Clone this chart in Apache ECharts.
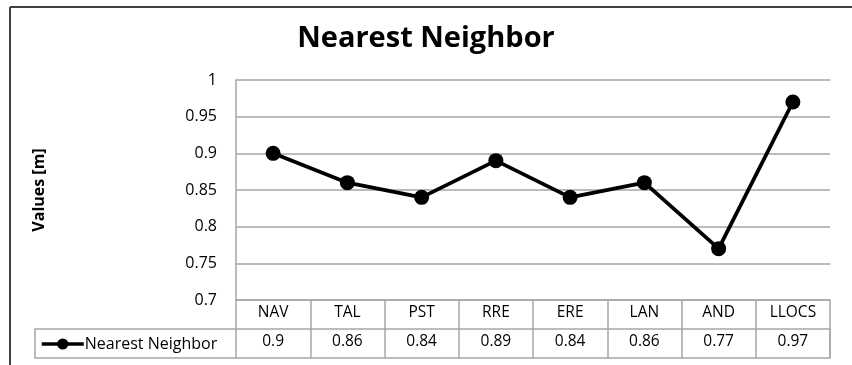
<!DOCTYPE html>
<html>
<head>
<meta charset="utf-8">
<script src="https://cdn.jsdelivr.net/npm/echarts@6/dist/echarts.min.js"></script>
<style>
  html, body { margin: 0; padding: 0; background: #fff; }
  #chart { width: 852px; height: 365px; }
</style>
</head>
<body>
<div id="chart"></div>
<script>
// Nearest-neighbour distance per method
const categories = ['NAV', 'TAL', 'PST', 'RRE', 'ERE', 'LAN', 'AND', 'LLOCS'];
const seriesName = 'Nearest Neighbor';
const values = [0.9, 0.86, 0.84, 0.89, 0.84, 0.86, 0.77, 0.97];
const yTicks = { min: 0.7, max: 1, step: 0.05 };

const FONT = 'Open Sans';
const GRID = { left: 236, right: 22, top: 80, bottom: 65 };
const W = 852, H = 365;
const ROW = 29;             // data-table row height
const gridBottomY = H - GRID.bottom;
const gridRightX = W - GRID.right;
const gray = '#a6a6a6';

const chart = echarts.init(document.getElementById('chart'), null, { renderer: 'canvas' });

chart.setOption({
  backgroundColor: '#fff',
  animation: false,
  title: {
    text: 'Nearest Neighbor',
    left: 'center',
    top: 19,
    textStyle: { fontFamily: FONT, fontWeight: 'bold', fontSize: 29, color: '#000' }
  },
  legend: {
    left: 40,
    top: gridBottomY + ROW + 7,
    padding: 0,
    itemWidth: 42,
    itemHeight: 14,
    itemGap: 2,
    textStyle: { fontFamily: FONT, fontSize: 16, color: '#000', padding: [0, 0, 0, -4] },
    data: [{ name: seriesName, itemStyle: { color: '#000' }, lineStyle: { width: 3.5, color: '#000' } }]
  },
  grid: { left: GRID.left, right: GRID.right, top: GRID.top, bottom: GRID.bottom, containLabel: false },
  xAxis: [
    {
      type: 'category',
      data: categories,
      boundaryGap: true,
      position: 'bottom',
      axisLine: { show: true, lineStyle: { color: gray, width: 1.5 } },
      axisTick: { show: true, inside: false, length: ROW * 2, lineStyle: { color: gray, width: 1.5 } },
      axisLabel: { margin: 5, fontFamily: FONT, fontSize: 15.5, color: '#000' },
      splitLine: { show: false }
    },
    {
      type: 'category',
      data: categories,
      boundaryGap: true,
      position: 'bottom',
      offset: ROW,
      axisLine: { show: false },
      axisTick: { show: false },
      axisLabel: {
        margin: 5, fontFamily: FONT, fontSize: 15.5, color: '#000',
        formatter: (v, i) => String(values[i])
      },
      splitLine: { show: false }
    }
  ],
  yAxis: {
    type: 'value',
    min: yTicks.min,
    max: yTicks.max,
    interval: yTicks.step,
    name: 'Values [m]',
    nameLocation: 'middle',
    nameRotate: 90,
    nameGap: 189,
    nameTextStyle: { fontFamily: FONT, fontWeight: 'bold', fontSize: 16, color: '#000' },
    axisLine: { show: true, lineStyle: { color: gray, width: 1.5 } },
    axisTick: { show: false },
    axisLabel: { margin: 19, fontFamily: FONT, fontSize: 16, color: '#000' },
    splitLine: { show: true, lineStyle: { color: gray, width: 1.5 } }
  },
  graphic: [
    // outer chart frame (left and top edges)
    { type: 'line', shape: { x1: 10, y1: 7, x2: 10, y2: H }, style: { stroke: '#404040', lineWidth: 2 } },
    { type: 'line', shape: { x1: 10, y1: 7, x2: W, y2: 7 }, style: { stroke: '#404040', lineWidth: 2 } },
    // data table value row box (with legend key cell)
    { type: 'rect', shape: { x: 35, y: gridBottomY + ROW, width: gridRightX - 35, height: ROW },
      style: { fill: 'none', stroke: gray, lineWidth: 1.5 } }
  ],
  series: [{
    name: seriesName,
    type: 'line',
    xAxisIndex: 0,
    data: values,
    symbol: 'circle',
    symbolSize: 15,
    lineStyle: { color: '#000', width: 3.8 },
    itemStyle: { color: '#000' }
  }]
});
</script>
</body>
</html>
